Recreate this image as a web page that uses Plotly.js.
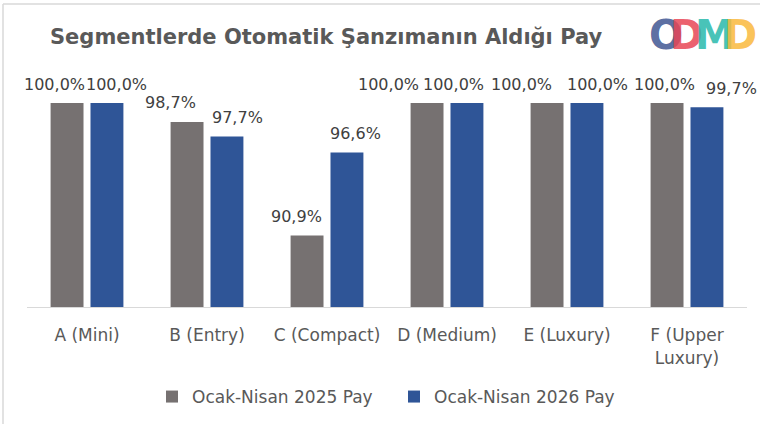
<!DOCTYPE html>
<html>
<head>
<meta charset="utf-8">
<script src="https://cdn.plot.ly/plotly-3.0.1.min.js"></script>
<style>
html,body{margin:0;padding:0;background:#fff;}
#chart{width:760px;height:424px;}
</style>
</head>
<body>
<div id="chart"></div>
<script>
const categories = ["A (Mini)", "B (Entry)", "C (Compact)", "D (Medium)", "E (Luxury)", "F (Upper<br>Luxury)"];
const series2025Name = "Ocak-Nisan 2025 Pay";
const series2026Name = "Ocak-Nisan 2026 Pay";
const series2025 = [100.0, 98.7, 90.9, 100.0, 100.0, 100.0];
const series2026 = [100.0, 97.7, 96.6, 100.0, 100.0, 99.7];
const titleText = "Segmentlerde Otomatik Şanzımanın Aldığı Pay";
const logoLetters = ["O", "D", "M", "D"];

// label horizontal nudges (pixels) as placed in the original chart
const labelNudge2025 = [-13, -17, -11, -39, -26, -3];
const labelNudge2026 = [9, 10, 8, -14, 10, 24];

const FONT = "DejaVu Sans, sans-serif";
const L = 27, R = 13, T = 103, B = 117;
const PW = 760 - L - R, PH = 424 - T - B;
const px = v => (v - L) / PW;
const py = v => (424 - B - v) / PH;

function barTrace(name, vals, color) {
  return {
    type: "bar", name: name, x: categories, y: vals,
    marker: {color: color},
    hoverinfo: "skip"
  };
}

const data = [
  barTrace(series2025Name, series2025, "#767171"),
  barTrace(series2026Name, series2026, "#2F5597")
];

const annotations = [];
function addLabels(vals, groupShift, nudges) {
  vals.forEach((v, i) => {
    annotations.push({
      xref: "x", yref: "y", x: i, y: v,
      xanchor: "center", yanchor: "middle",
      xshift: groupShift + nudges[i], yshift: 19,
      showarrow: false,
      text: v.toFixed(1).replace(".", ",") + "%",
      font: {family: FONT, size: 16, color: "#404040"}
    });
  });
}
addLabels(series2025, -20, labelNudge2025);
addLabels(series2026, 20, labelNudge2026);

const logoColors = ["rgba(70,92,150,0.9)", "rgba(232,70,85,0.85)", "rgba(40,185,172,0.85)", "rgba(250,185,60,0.85)"];
const logoX = [666, 686, 715, 740];
logoLetters.forEach((ch, i) => annotations.push({
  xref: "paper", yref: "paper",
  x: px(logoX[i]), y: py(35),
  xanchor: "center", yanchor: "middle", showarrow: false,
  text: "<b>" + ch + "</b>",
  font: {family: "DejaVu Sans, sans-serif", size: 40, color: logoColors[i]}
}));

const layout = {
  width: 760, height: 424,
  margin: {l: L, r: R, t: T, b: B, autoexpand: false},
  paper_bgcolor: "#fff", plot_bgcolor: "#fff",
  title: {
    text: titleText, xref: "container", yref: "container",
    x: 50 / 760, xanchor: "left", y: 1 - 37 / 424, yanchor: "middle",
    font: {family: FONT, size: 21, color: "#595959", weight: "bold"}
  },
  barmode: "group", bargap: 0.335, bargroupgap: 0.175,
  xaxis: {
    range: [-0.5, categories.length - 0.5], autorange: false,
    showline: true, linecolor: "#D9D9D9", linewidth: 1,
    ticks: "", ticklabelstandoff: 13,
    tickfont: {family: FONT, size: 17, color: "#595959"},
    fixedrange: true
  },
  yaxis: {range: [86, 100], autorange: false, visible: false, showgrid: false, zeroline: false, fixedrange: true},
  legend: {
    orientation: "h", x: px(152), xanchor: "left", y: py(397), yanchor: "middle",
    entrywidth: 197, entrywidthmode: "pixels",
    font: {family: FONT, size: 17, color: "#595959"}
  },
  showlegend: true,
  annotations: annotations,
  shapes: [
    {type: "line", xref: "paper", yref: "paper", x0: px(3), x1: px(770), y0: py(4), y1: py(4), line: {color: "#D9D9D9", width: 1.5}},
    {type: "line", xref: "paper", yref: "paper", x0: px(3), x1: px(3), y0: py(4), y1: py(430), line: {color: "#D9D9D9", width: 1.5}}
  ]
};

Plotly.newPlot("chart", data, layout, {displayModeBar: false, staticPlot: true});
</script>
</body>
</html>
